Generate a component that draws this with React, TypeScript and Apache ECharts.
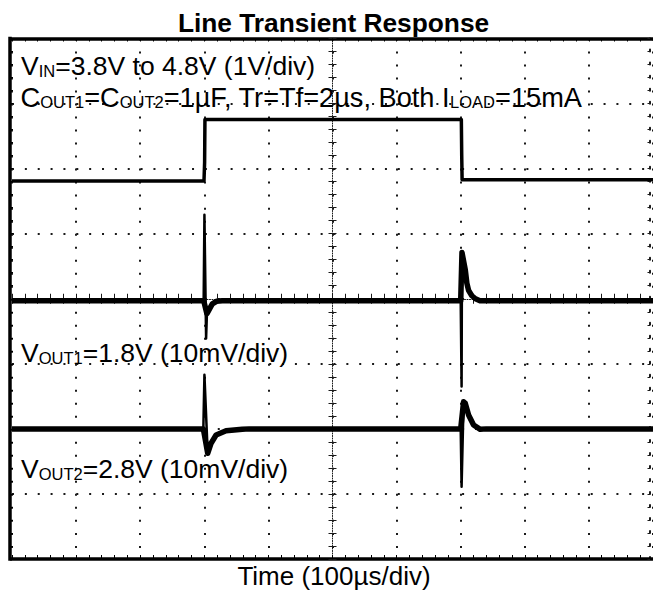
import React, { useEffect, useRef } from "react";
import * as echarts from "echarts";

// Time axis in µs (100 µs/div, 10 divisions); vertical axis in divisions (8 divisions)
const timeMin = -500;
const timeMax = 500;
const timeStep = 100;
const divMin = -4;
const divMax = 4;

// V_IN trace (divisions)
const vinTrace: [number, number][] = [
  [-500, 1.81], [-200.5, 1.81], [-199.5, 2.1], [-199, 2.755],
  [201, 2.755], [201.6, 2.2], [202.2, 1.83], [500, 1.83],
];

// V_OUT1 trace (divisions, baseline at centre) – slow part, drawn thick
const vout1Trace: [number, number][] = [
  [-500, -0.03], [-201, -0.03], [-195.9, -0.23],
  [-192, -0.16], [-187.5, -0.08], [-181, -0.04], [-172, -0.03],
  [200, -0.03], [202, 0.71], [207.2, 0.44], [209.6, 0.24],
  [212.3, 0.13], [217, 0.05], [223, 0.0], [230, -0.03], [500, -0.03],
];
// V_OUT1 fast spikes – drawn thin
const vout1SpikeRise: [number, number][] = [[-201, -0.03], [-199.8, 1.29], [-197.2, -0.61], [-195.9, -0.23]];
const vout1SpikeFall: [number, number][] = [[200, -0.03], [201.4, -1.35], [202, 0.71]];

// V_OUT2 trace (divisions, baseline two divisions below centre) – slow part
const vout2Trace: [number, number][] = [
  [-500, -2.0], [-201.5, -2.0], [-194.7, -2.376], [-189.4, -2.22],
  [-181.6, -2.095], [-166.1, -2.03], [-140.8, -2.007], [-130, -2.0],
  [200, -2.0], [204.5, -1.583], [207.2, -1.608], [212.3, -1.787],
  [220.1, -1.941], [230.5, -2.007], [240, -2.0], [500, -2.0],
];
// V_OUT2 fast spikes
const vout2SpikeRise: [number, number][] = [[-201.5, -2.0], [-199.8, -1.17], [-194.7, -2.376]];
const vout2SpikeFall: [number, number][] = [[200, -2.0], [201.4, -2.89], [204.5, -1.583]];

const titleText = "Line Transient Response";
const xAxisTitle = "Time (100µs/div)";
const vinLabel = "{m|V}{s|IN}{m|=3.8V to 4.8V (1V/div)}";
const coutLabel = "{m|C}{s|OUT1}{m|=C}{s|OUT2}{m|=1µF, Tr=Tf=2µs, Both I}{s|LOAD}{m|=15mA}";
const vout1Label = "{m|V}{s|OUT1}{m|=1.8V (10mV/div)}";
const vout2Label = "{m|V}{s|OUT2}{m|=2.8V (10mV/div)}";

const FONT = "'Liberation Sans', Arial, Helvetica, sans-serif";

function richStyle(main: number, sub: number) {
  return {
    m: { fontSize: main, lineHeight: 26, fontFamily: FONT, fill: "#000", verticalAlign: "middle" },
    s: { fontSize: sub, lineHeight: 13, fontFamily: FONT, fill: "#000", verticalAlign: "bottom" },
  };
}

function labelText(text: string, x: number, y: number, main = 26.5) {
  return {
    type: "text",
    x,
    y,
    z: 100,
    silent: true,
    style: {
      text,
      align: "left",
      verticalAlign: "middle",
      fontFamily: FONT,
      fontSize: main,
      fill: "#000",
      rich: richStyle(main, 16.5),
    },
  };
}

const GRID_DOT = "#1a1a1a";

function traceSeries(name: string, data: [number, number][], width: number) {
  return {
    name,
    type: "line",
    xAxisIndex: 0,
    yAxisIndex: 0,
    data,
    showSymbol: false,
    silent: true,
    z: 5,
    lineStyle: { color: "#000", width, join: "round", cap: "butt" },
  };
}

export default function App() {
  const ref = useRef<HTMLDivElement>(null);

  useEffect(() => {
    if (!ref.current) return;
    const chart = echarts.init(ref.current, null, { renderer: "svg" });

    const baseX = {
      type: "value",
      min: timeMin,
      max: timeMax,
      interval: timeStep,
      axisLabel: { show: false },
    };
    const baseY = {
      type: "value",
      min: divMin,
      max: divMax,
      interval: 1,
      axisLabel: { show: false },
    };
    const tick = (len: number, inside: boolean, color = "#000") => ({
      axisTick: { show: true, inside, length: len, lineStyle: { color, width: 1 } },
      minorTick: { show: true, splitNumber: 5, length: len, lineStyle: { color, width: 1 } },
    });

    const option: any = {
      animation: false,
      backgroundColor: "#fff",
      grid: { left: 12, right: -2, top: 38.5, bottom: 32, containLabel: false },
      xAxis: [
        {
          ...baseX,
          position: "bottom",
          axisLine: { show: true, onZero: false, lineStyle: { color: "#000", width: 3.5, cap: "square" } },
          ...tick(4, true),
          splitLine: { show: true, lineStyle: { color: GRID_DOT, width: 2, type: [2, 11.01] } },
        },
        {
          ...baseX,
          position: "top",
          axisLine: { show: true, onZero: false, lineStyle: { color: "#000", width: 3.5, cap: "square" } },
          ...tick(3, true),
          splitLine: { show: false },
        },
        {
          ...baseX,
          position: "bottom",
          axisLine: { show: true, onZero: true, onZeroAxisIndex: 0, lineStyle: { color: GRID_DOT, width: 1, type: [1, 1.5] } },
          ...tick(5, true, GRID_DOT),
          splitLine: { show: false },
        },
        {
          ...baseX,
          position: "bottom",
          axisLine: { show: false, onZero: true, onZeroAxisIndex: 0 },
          ...tick(5, false, GRID_DOT),
          splitLine: { show: false },
        },
      ],
      yAxis: [
        {
          ...baseY,
          position: "left",
          offset: 2,
          axisLine: { show: true, onZero: false, lineStyle: { color: "#000", width: 3.5, cap: "square" } },
          ...tick(3, true),
          splitLine: { show: true, lineStyle: { color: GRID_DOT, width: 2, type: [2, 10.86] } },
        },
        {
          ...baseY,
          position: "left",
          axisLine: { show: true, onZero: true, onZeroAxisIndex: 0, lineStyle: { color: GRID_DOT, width: 1, type: [1, 1.5] } },
          ...tick(4, true, GRID_DOT),
          splitLine: { show: false },
        },
        {
          ...baseY,
          position: "left",
          axisLine: { show: false, onZero: true, onZeroAxisIndex: 0 },
          ...tick(4, false, GRID_DOT),
          splitLine: { show: false },
        },
        {
          ...baseY,
          position: "right",
          offset: -3,
          axisLine: { show: true, onZero: false, lineStyle: { color: GRID_DOT, width: 2, type: [2, 11.01] } },
          ...tick(2.5, true, GRID_DOT),
          splitLine: { show: false },
        },
      ],
      series: [
        traceSeries("VIN", vinTrace, 3.5),
        traceSeries("VOUT1", vout1Trace, 5.5),
        traceSeries("VOUT1 rise spike", vout1SpikeRise, 2.5),
        traceSeries("VOUT1 fall spike", vout1SpikeFall, 2.5),
        traceSeries("VOUT2", vout2Trace, 5.5),
        traceSeries("VOUT2 rise spike", vout2SpikeRise, 2.5),
        traceSeries("VOUT2 fall spike", vout2SpikeFall, 2.5),
      ],
      graphic: [
        {
          type: "text",
          x: 333.5,
          y: 22.5,
          z: 100,
          silent: true,
          style: {
            text: titleText,
            align: "center",
            verticalAlign: "middle",
            fontFamily: FONT,
            fontSize: 26.3,
            fontWeight: "bold",
            fill: "#000",
          },
        },
        {
          type: "text",
          x: 334,
          y: 576,
          z: 100,
          silent: true,
          style: {
            text: xAxisTitle,
            align: "center",
            verticalAlign: "middle",
            fontFamily: FONT,
            fontSize: 26,
            fill: "#000",
          },
        },
        labelText(vinLabel, 21, 66),
        labelText(coutLabel, 20.5, 97.5, 27.2),
        labelText(vout1Label, 21, 353),
        labelText(vout2Label, 21, 469),
      ],
    };

    chart.setOption(option);
    return () => {
      chart.dispose();
    };
  }, []);

  return (
    <div
      ref={ref}
      style={{ position: "absolute", left: 0, top: 0, width: 653, height: 591, background: "#fff" }}
    />
  );
}
